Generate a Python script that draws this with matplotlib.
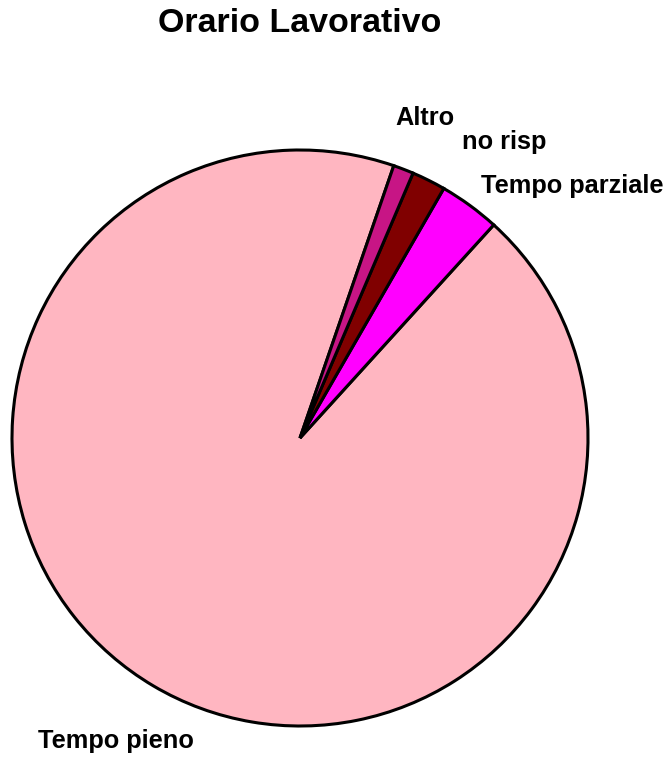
import matplotlib
matplotlib.use("Agg")
import matplotlib.pyplot as plt

plt.rcParams["font.family"] = ["Liberation Sans", "DejaVu Sans"]

categories = ["Tempo pieno", "Tempo parziale", "no risp", "Altro"]
counts = [246, 9, 5, 3]
colors = ["#FFB6C1", "#FF00FF", "#800000", "#C71585"]
# label anchors in data units (left edge, vertical centre)
label_x = [-0.91, 0.628, 0.5625, 0.33]
label_y = [-1.052, 0.875, 1.028, 1.111]

fig = plt.figure(figsize=(6.69, 7.64), dpi=100)
ax = fig.add_axes([0, 0, 1, 1])

ax.pie(
    counts,
    colors=colors,
    startangle=71.0,
    counterclock=True,
    radius=1.0,
    wedgeprops={"edgecolor": "black", "linewidth": 2.2},
)

for name, x, y in zip(categories, label_x, label_y):
    ax.text(x, y, name, ha="left", va="center", fontsize=18.3, fontweight="bold")

ax.text(0.0, 1.44, "Orario Lavorativo", ha="center", va="center",
        fontsize=24.5, fontweight="bold")

ax.set_xlim(-300 / 288, 369 / 288)
ax.set_ylim(-326 / 288, 438 / 288)
ax.set_aspect("equal")
ax.axis("off")

fig.savefig("out.png", dpi=100)
